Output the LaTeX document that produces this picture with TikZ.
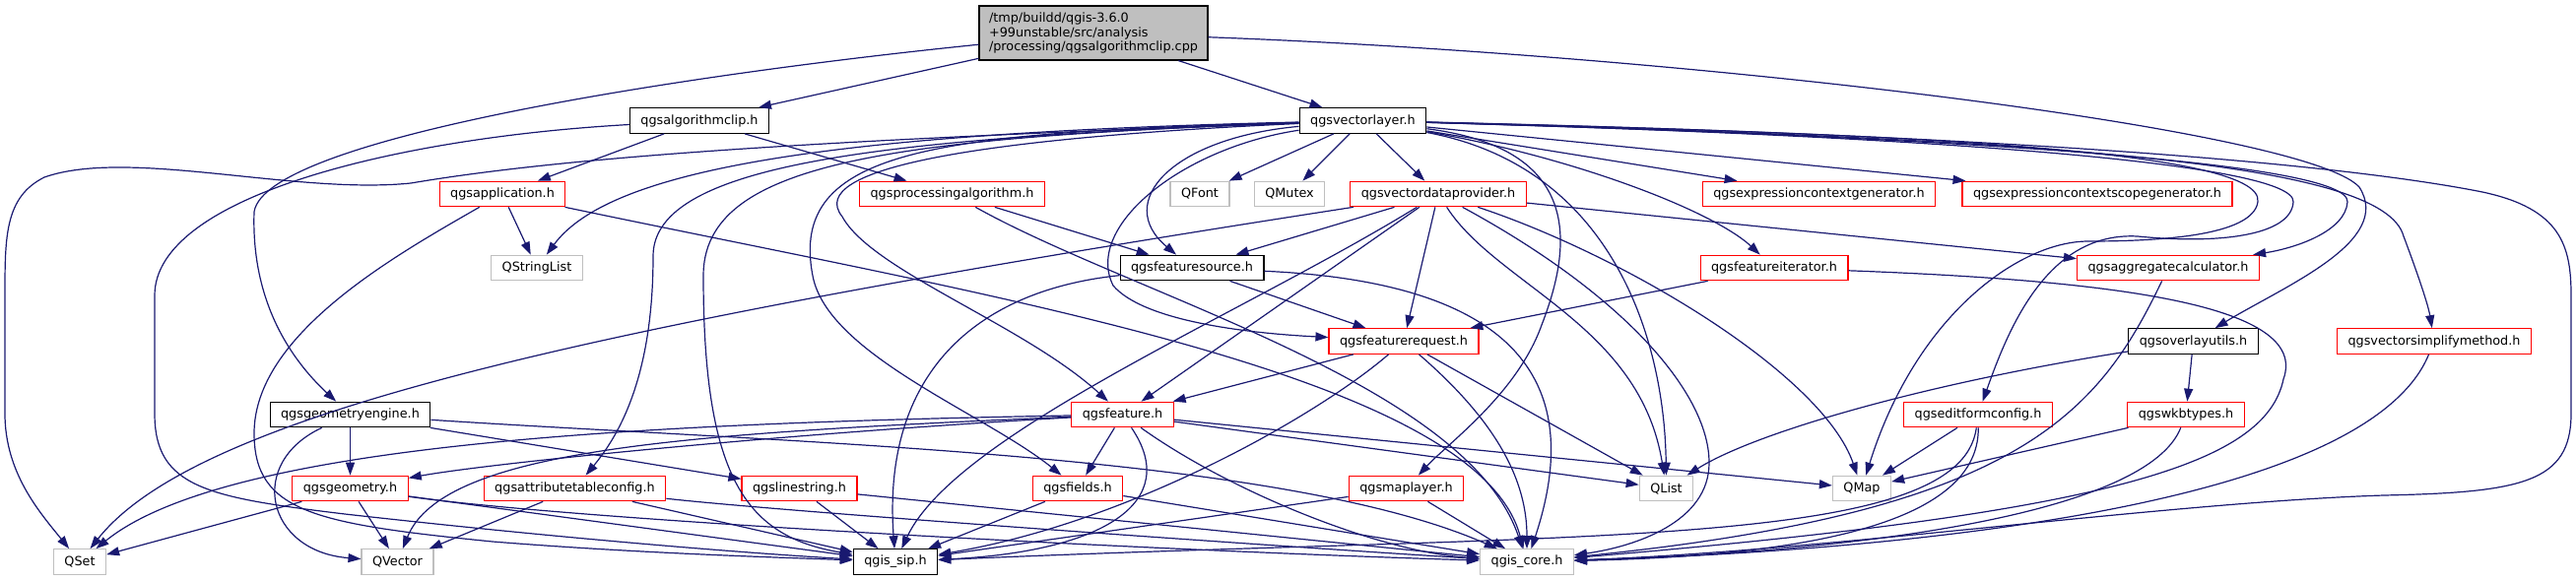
\documentclass[tikz,border=0pt]{standalone}
\usepackage{fontspec}
\setmainfont{DejaVu Sans}
\usepackage{tikz}
\usetikzlibrary{arrows.meta}

\definecolor{edgeblue}{HTML}{191970}
\definecolor{boxgrey}{HTML}{BFBFBF}
\definecolor{boxred}{HTML}{FF0000}

\begin{document}
\begin{tikzpicture}[x=1pt, y=-1pt,
  hdr/.style={draw=black, line width=1.2pt, fill=white, inner xsep=11pt, inner ysep=0pt, minimum height=25.5pt, font=\fontsize{12.8}{14.7}\selectfont},
  hdrred/.style={hdr, draw=boxred},
  hdrqt/.style={hdr, draw=boxgrey},
  srcfile/.style={hdr, fill=boxgrey, align=left, inner xsep=10pt, minimum height=55pt},
  incl/.style={draw=edgeblue, line width=1.2pt, -{Triangle[length=13pt,width=9pt]}}]
\useasboundingbox (0,0) rectangle (2615,589);

\node[srcfile] (root) at (1110,33.5) {/tmp/buildd/qgis-3.6.0\\+99unstable/src/analysis\\/processing/qgsalgorithmclip.cpp};
\node[hdr] (algclip) at (710,122.5) {qgsalgorithmclip.h};
\node[hdr] (vlayer) at (1383.5,122.5) {qgsvectorlayer.h};
\node[hdrred] (app) at (510,197) {qgsapplication.h};
\node[hdrred] (procalg) at (966.5,197) {qgsprocessingalgorithm.h};
\node[hdrqt] (qfont) at (1218,197) {QFont};
\node[hdrqt] (qmutex) at (1309,197) {QMutex};
\node[hdrred] (vdp) at (1460,197) {qgsvectordataprovider.h};
\node[hdrred] (exprgen) at (1846.5,197) {qgsexpressioncontextgenerator.h};
\node[hdrred] (exprscope) at (2129,197) {qgsexpressioncontextscopegenerator.h};
\node[hdrqt] (qstringlist) at (545,272) {QStringList};
\node[hdr] (fsource) at (1210,272) {qgsfeaturesource.h};
\node[hdrred] (fiter) at (1801,272) {qgsfeatureiterator.h};
\node[hdrred] (aggcalc) at (2201,272) {qgsaggregatecalculator.h};
\node[hdrred] (freq) at (1425,346.5) {qgsfeaturerequest.h};
\node[hdr] (overlay) at (2226.5,346.5) {qgsoverlayutils.h};
\node[hdrred] (vsimp) at (2471,346.5) {qgsvectorsimplifymethod.h};
\node[hdr] (geomengine) at (355.5,421) {qgsgeometryengine.h};
\node[hdrred] (feature) at (1139.5,421) {qgsfeature.h};
\node[hdrred] (editform) at (2008,421) {qgseditformconfig.h};
\node[hdrred] (wkb) at (2219,421) {qgswkbtypes.h};
\node[hdrred] (geometry) at (355.5,496) {qgsgeometry.h};
\node[hdrred] (attrtable) at (583.5,496) {qgsattributetableconfig.h};
\node[hdrred] (linestring) at (811.5,496) {qgslinestring.h};
\node[hdrred] (fields) at (1094,496) {qgsfields.h};
\node[hdrred] (maplayer) at (1427.5,496) {qgsmaplayer.h};
\node[hdrqt] (qlist) at (1691.5,496) {QList};
\node[hdrqt] (qmap) at (1890,496) {QMap};
\node[hdrqt] (qset) at (81,570.5) {QSet};
\node[hdrqt] (qvector) at (403.5,570.5) {QVector};
\node[hdr] (sip) at (909,570.5) {qgis\_sip.h};
\node[hdrqt] (core) at (1550,570.5) {qgis\_core.h};

\draw[incl] (root) -- (algclip);
\draw[incl] (root) -- (vlayer);
\draw[incl] (root) .. controls (700,75) and (270,140) .. (258,215) .. controls (255,300) and (290,360) .. (geomengine);
\draw[incl] (root) .. controls (1700,55) and (2340,130) .. (2395,190) .. controls (2430,245) and (2320,290) .. (overlay);

\draw[incl] (algclip) -- (app);
\draw[incl] (algclip) -- (procalg);
\draw[incl] (algclip) .. controls (400,140) and (157,200) .. (157,300) -- (157,420) .. controls (157,495) and (210,505) .. (350,522) .. controls (600,550) and (780,563) .. (sip);

\draw[incl] (vlayer) .. controls (900,140) and (600,155) .. (417,186) .. controls (300,198) and (130,150) .. (45,180) .. controls (5,200) and (5,240) .. (5,300) -- (5,420) .. controls (5,480) and (40,520) .. (qset);
\draw[incl] (vlayer) .. controls (850,135) and (620,170) .. (qstringlist);
\draw[incl] (vlayer) .. controls (900,140) and (663,165) .. (663,260) .. controls (663,380) and (630,440) .. (attrtable);
\draw[incl] (vlayer) .. controls (900,140) and (714,165) .. (714,280) .. controls (714,490) and (760,545) .. (sip);
\draw[incl] (vlayer) .. controls (950,135) and (800,150) .. (825,280) .. controls (840,360) and (1000,420) .. (fields);
\draw[incl] (vlayer) .. controls (1000,140) and (815,170) .. (855,220) .. controls (885,275) and (1040,330) .. (feature);
\draw[incl] (vlayer) .. controls (1190,140) and (1130,205) .. (fsource);
\draw[incl] (vlayer) .. controls (1200,150) and (1100,230) .. (1130,290) .. controls (1160,325) and (1260,338) .. (freq);
\draw[incl] (vlayer) -- (qfont);
\draw[incl] (vlayer) -- (qmutex);
\draw[incl] (vlayer) -- (vdp);
\draw[incl] (vlayer) .. controls (1600,150) and (1600,240) .. (1565,330) .. controls (1540,400) and (1470,450) .. (maplayer);
\draw[incl] (vlayer) .. controls (1640,170) and (1690,350) .. (qlist);
\draw[incl] (vlayer) .. controls (1600,160) and (1740,215) .. (fiter);
\draw[incl] (vlayer) -- (exprgen);
\draw[incl] (vlayer) -- (exprscope);
\draw[incl] (vlayer) .. controls (1900,135) and (2300,150) .. (2292,205) .. controls (2287,240) and (2190,245) .. (2120,245) .. controls (2050,245) and (1945,320) .. (qmap);
\draw[incl] (vlayer) .. controls (1950,138) and (2330,165) .. (2328,205) .. controls (2326,240) and (2250,248) .. (2170,240) .. controls (2080,235) and (2040,330) .. (editform);
\draw[incl] (vlayer) .. controls (2000,140) and (2385,165) .. (2383,205) .. controls (2381,235) and (2330,252) .. (aggcalc);
\draw[incl] (vlayer) .. controls (2100,142) and (2420,165) .. (2440,240) .. controls (2455,280) and (2465,310) .. (vsimp);
\draw[incl] (vlayer) .. controls (2150,140) and (2420,175) .. (2520,195) .. controls (2600,212) and (2610,250) .. (2610,300) -- (2610,420) .. controls (2610,490) and (2560,500) .. (2420,503) .. controls (2200,510) and (1850,560) .. (core);

\draw[incl] (app) -- (qstringlist);
\draw[incl] (app) .. controls (400,260) and (258,340) .. (258,440) .. controls (258,520) and (320,532) .. (500,550) .. controls (650,562) and (790,566) .. (sip);
\draw[incl] (app) .. controls (1000,300) and (1500,380) .. (core);

\draw[incl] (procalg) -- (fsource);
\draw[incl] (procalg) .. controls (1150,300) and (1490,390) .. (core);

\draw[incl] (vdp) .. controls (600,330) and (200,420) .. (qset);
\draw[incl] (vdp) -- (fsource);
\draw[incl] (vdp) -- (freq);
\draw[incl] (vdp) -- (feature);
\draw[incl] (vdp) .. controls (1260,320) and (970,440) .. (sip);
\draw[incl] (vdp) .. controls (1520,290) and (1665,330) .. (qlist);
\draw[incl] (vdp) .. controls (1650,260) and (1850,380) .. (qmap);
\draw[incl] (vdp) .. controls (1650,300) and (1735,400) .. (1735,470) .. controls (1735,530) and (1660,555) .. (core);
\draw[incl] (vdp) -- (aggcalc);

\draw[incl] (fsource) -- (freq);
\draw[incl] (fsource) .. controls (990,295) and (895,380) .. (sip);
\draw[incl] (fsource) .. controls (1500,285) and (1620,360) .. (core);

\draw[incl] (fiter) -- (freq);
\draw[incl] (fiter) .. controls (2150,285) and (2345,310) .. (2318,385) .. controls (2300,470) and (2150,520) .. (core);

\draw[incl] (aggcalc) .. controls (2130,420) and (2050,520) .. (core);

\draw[incl] (freq) -- (feature);
\draw[incl] (freq) -- (qlist);
\draw[incl] (freq) .. controls (1340,420) and (1150,530) .. (sip);
\draw[incl] (freq) .. controls (1510,420) and (1550,480) .. (core);

\draw[incl] (overlay) .. controls (1950,390) and (1780,440) .. (qlist);
\draw[incl] (overlay) -- (wkb);

\draw[incl] (vsimp) .. controls (2400,520) and (1900,560) .. (core);

\draw[incl] (geomengine) -- (geometry);
\draw[incl] (geomengine) .. controls (250,470) and (270,560) .. (qvector);
\draw[incl] (geomengine) -- (linestring);
\draw[incl] (geomengine) .. controls (800,450) and (1300,460) .. (core);

\draw[incl] (feature) .. controls (650,430) and (230,450) .. (qset);
\draw[incl] (feature) .. controls (700,440) and (450,455) .. (qvector);
\draw[incl] (feature) .. controls (800,440) and (500,470) .. (geometry);
\draw[incl] (feature) -- (fields);
\draw[incl] (feature) .. controls (1200,510) and (1120,560) .. (sip);
\draw[incl] (feature) .. controls (1250,500) and (1400,560) .. (core);
\draw[incl] (feature) -- (qlist);
\draw[incl] (feature) -- (qmap);

\draw[incl] (editform) -- (qmap);
\draw[incl] (editform) .. controls (1990,560) and (1600,540) .. (sip);
\draw[incl] (editform) .. controls (2010,540) and (1800,565) .. (core);

\draw[incl] (wkb) -- (qmap);
\draw[incl] (wkb) .. controls (2180,520) and (1900,560) .. (core);

\draw[incl] (geometry) -- (qset);
\draw[incl] (geometry) -- (qvector);
\draw[incl] (geometry) -- (sip);
\draw[incl] (geometry) .. controls (600,530) and (1200,560) .. (core);

\draw[incl] (attrtable) -- (qvector);
\draw[incl] (attrtable) -- (sip);
\draw[incl] (attrtable) .. controls (800,520) and (1300,555) .. (core);

\draw[incl] (linestring) -- (sip);
\draw[incl] (linestring) -- (core);

\draw[incl] (fields) -- (sip);
\draw[incl] (fields) -- (core);

\draw[incl] (maplayer) -- (sip);
\draw[incl] (maplayer) -- (core);
\end{tikzpicture}
\end{document}
